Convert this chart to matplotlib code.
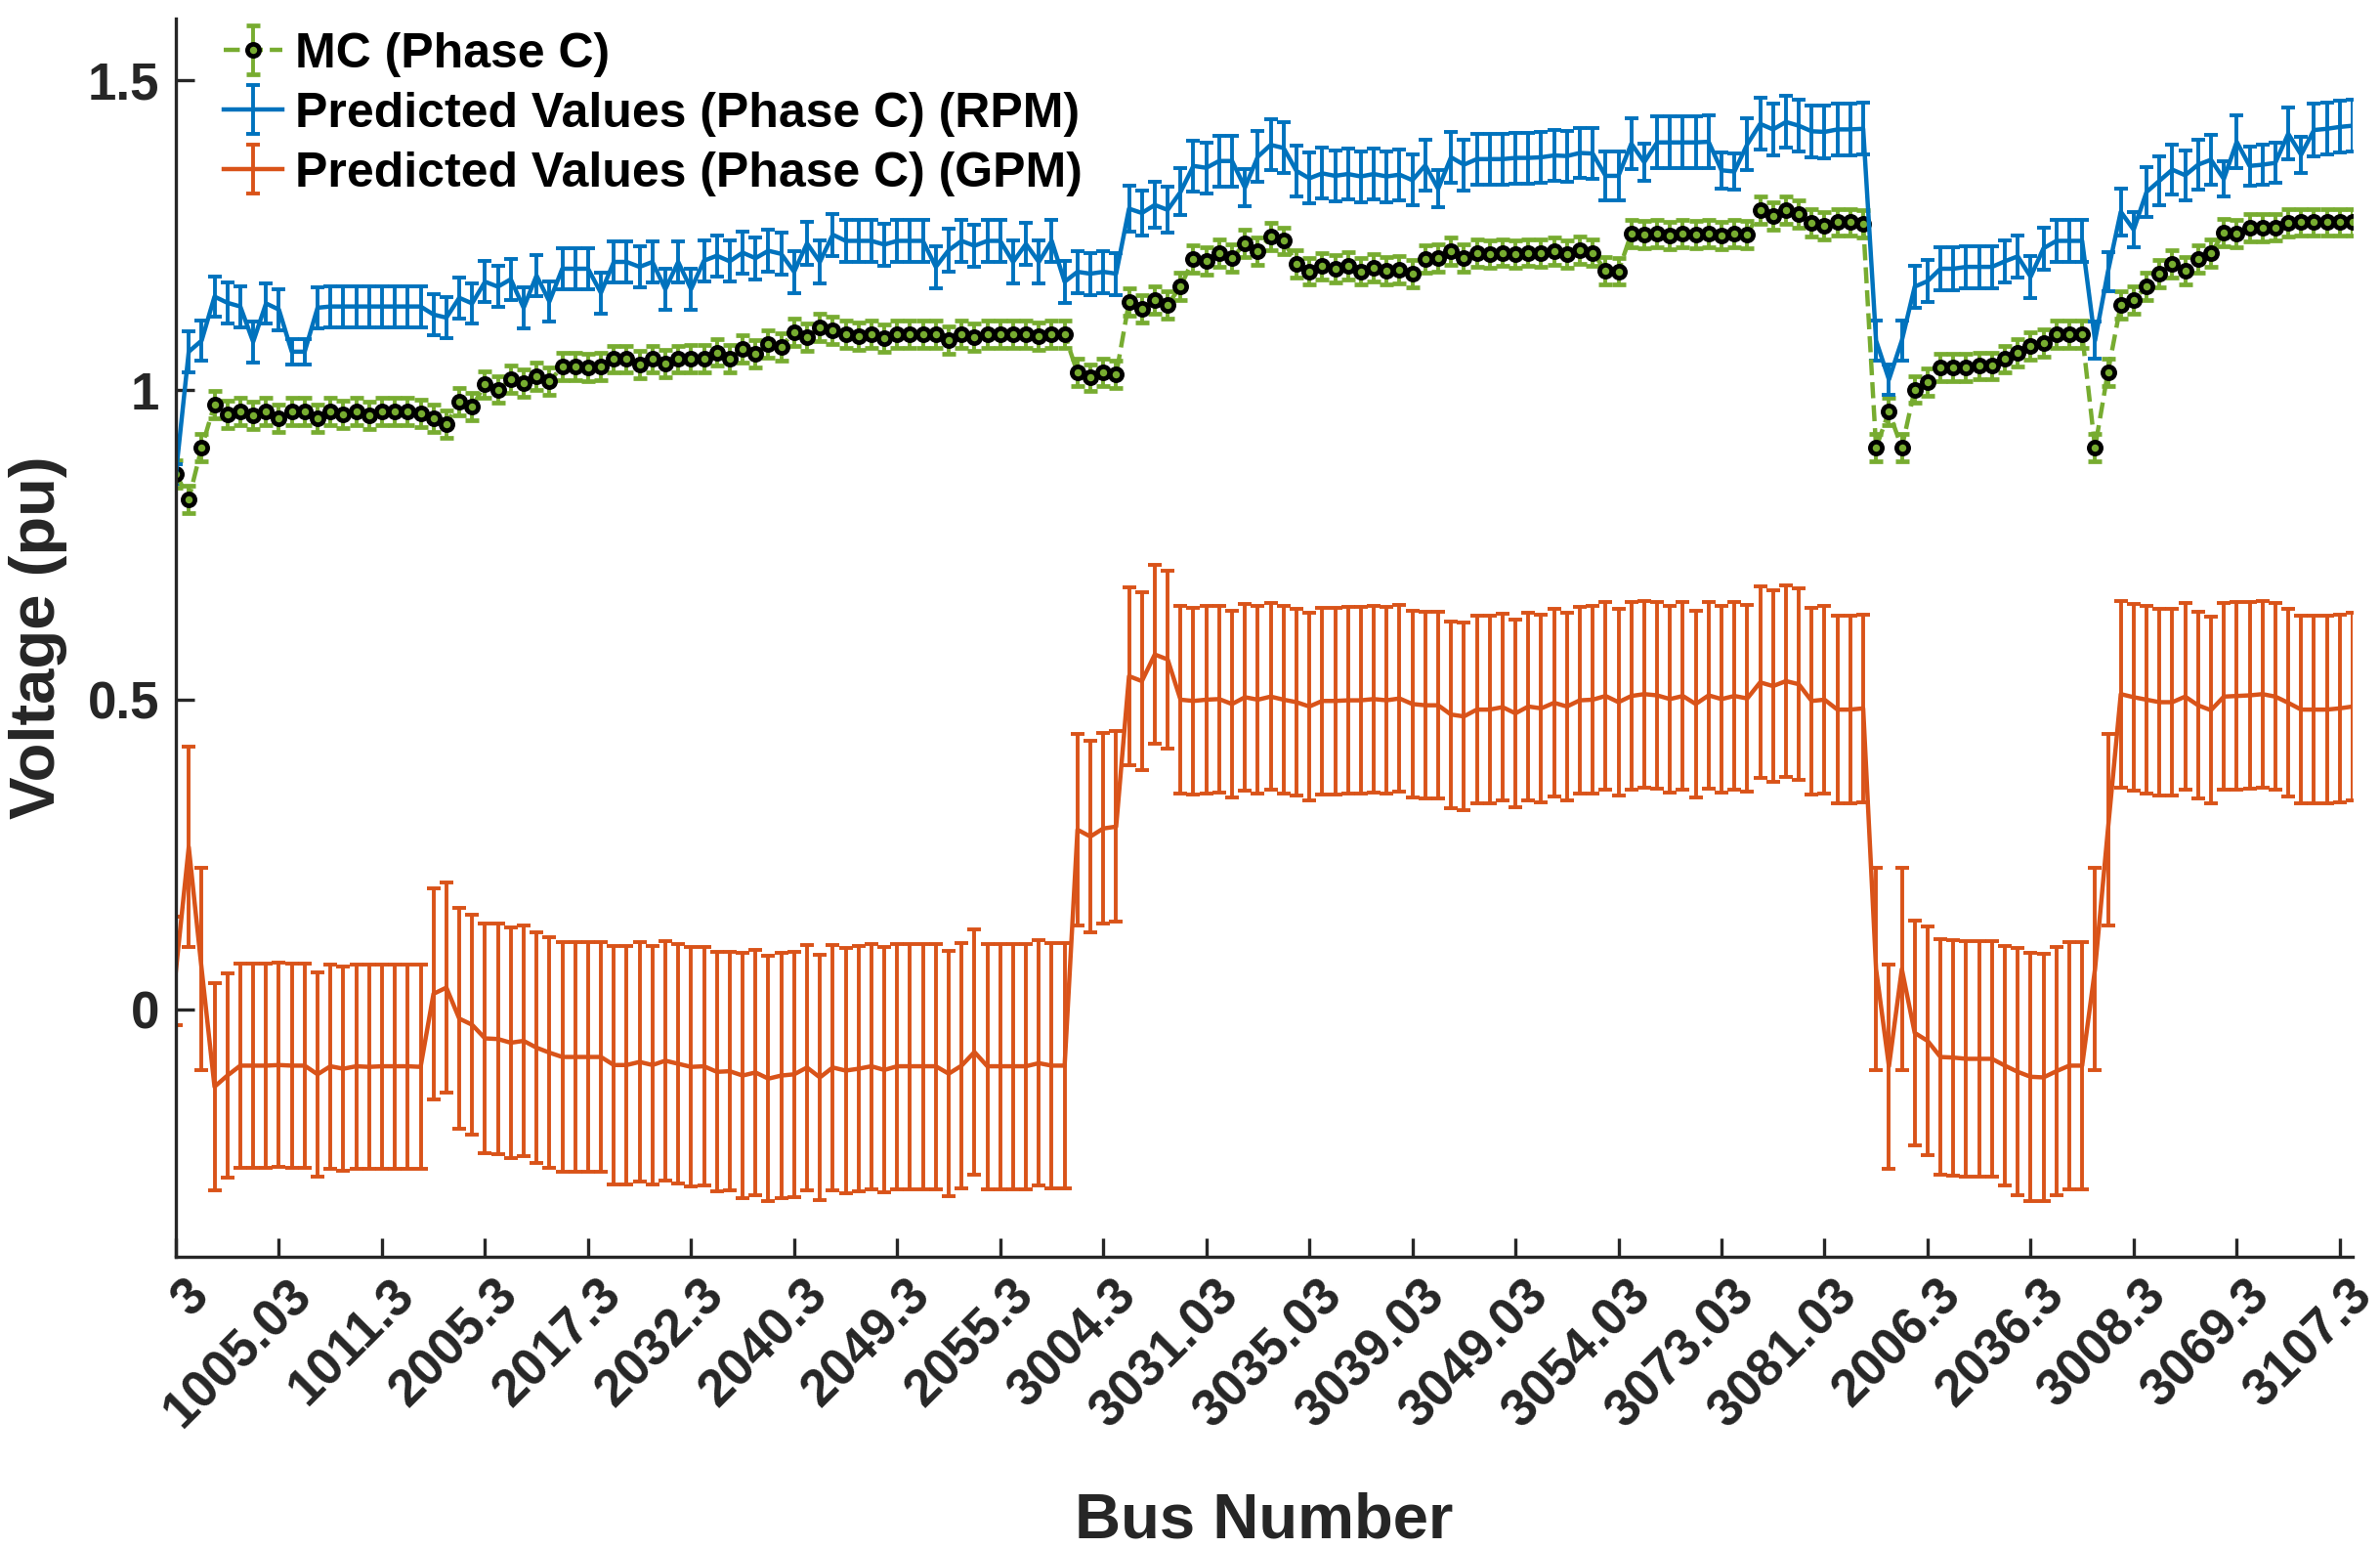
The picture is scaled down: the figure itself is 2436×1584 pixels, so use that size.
import numpy as np
import matplotlib.pyplot as plt
import matplotlib.transforms as mtransforms

plt.rcParams['font.family'] = ['Liberation Sans', 'DejaVu Sans']
plt.rcParams['font.weight'] = 'bold'

# === Data (170 buses, in plotting order) ===
mc_values = [
    0.865, 0.824, 0.907, 0.977, 0.961, 0.965, 0.959, 0.965, 0.955, 0.965,
    0.965, 0.954, 0.965, 0.961, 0.965, 0.959, 0.965, 0.965, 0.965, 0.963,
    0.955, 0.945, 0.982, 0.973, 1.009, 1.001, 1.017, 1.012, 1.023, 1.014,
    1.038, 1.038, 1.037, 1.038, 1.050, 1.050, 1.041, 1.050, 1.043, 1.050,
    1.051, 1.051, 1.061, 1.051, 1.066, 1.059, 1.074, 1.070, 1.094, 1.086,
    1.101, 1.096, 1.090, 1.087, 1.090, 1.084, 1.090, 1.090, 1.090, 1.090,
    1.081, 1.090, 1.086, 1.090, 1.090, 1.090, 1.090, 1.087, 1.090, 1.090,
    1.028, 1.020, 1.029, 1.025, 1.142, 1.131, 1.146, 1.138, 1.167, 1.212,
    1.208, 1.221, 1.213, 1.237, 1.225, 1.248, 1.241, 1.204, 1.192, 1.200,
    1.196, 1.201, 1.192, 1.197, 1.193, 1.195, 1.188, 1.212, 1.213, 1.225,
    1.214, 1.221, 1.220, 1.222, 1.220, 1.222, 1.221, 1.224, 1.220, 1.226,
    1.222, 1.193, 1.192, 1.253, 1.251, 1.253, 1.249, 1.253, 1.251, 1.253,
    1.249, 1.253, 1.251, 1.290, 1.281, 1.291, 1.284, 1.270, 1.265, 1.271,
    1.271, 1.269, 0.907, 0.965, 0.907, 1.001, 1.013, 1.037, 1.037, 1.037,
    1.039, 1.039, 1.050, 1.060, 1.071, 1.076, 1.090, 1.090, 1.090, 0.907,
    1.029, 1.138, 1.146, 1.167, 1.188, 1.204, 1.193, 1.212, 1.221, 1.254,
    1.253, 1.262, 1.262, 1.263, 1.270, 1.271, 1.271, 1.271, 1.271, 1.271,
]
mc_err = 0.022

rpm_values = [
    0.865, 1.062, 1.080, 1.151, 1.141, 1.135, 1.078, 1.140, 1.130, 1.062,
    1.062, 1.133, 1.135, 1.135, 1.135, 1.135, 1.135, 1.135, 1.135, 1.135,
    1.122, 1.117, 1.149, 1.140, 1.175, 1.167, 1.179, 1.133, 1.185, 1.143,
    1.196, 1.196, 1.196, 1.157, 1.207, 1.207, 1.199, 1.207, 1.163, 1.207,
    1.163, 1.209, 1.217, 1.208, 1.222, 1.213, 1.225, 1.220, 1.191, 1.237,
    1.207, 1.251, 1.241, 1.241, 1.241, 1.235, 1.241, 1.241, 1.241, 1.199,
    1.226, 1.241, 1.233, 1.241, 1.241, 1.207, 1.236, 1.207, 1.241, 1.175,
    1.191, 1.188, 1.191, 1.188, 1.293, 1.286, 1.299, 1.291, 1.320, 1.362,
    1.359, 1.370, 1.370, 1.327, 1.377, 1.396, 1.391, 1.354, 1.342, 1.350,
    1.346, 1.349, 1.345, 1.349, 1.345, 1.348, 1.339, 1.363, 1.325, 1.376,
    1.364, 1.373, 1.373, 1.373, 1.375, 1.375, 1.376, 1.379, 1.378, 1.383,
    1.382, 1.346, 1.346, 1.398, 1.368, 1.400, 1.400, 1.400, 1.400, 1.401,
    1.355, 1.353, 1.397, 1.430, 1.421, 1.433, 1.427, 1.418, 1.417, 1.421,
    1.421, 1.422, 1.080, 1.017, 1.080, 1.167, 1.176, 1.196, 1.196, 1.199,
    1.199, 1.199, 1.208, 1.216, 1.183, 1.229, 1.241, 1.241, 1.241, 1.080,
    1.191, 1.288, 1.259, 1.320, 1.338, 1.356, 1.347, 1.364, 1.372, 1.341,
    1.401, 1.362, 1.364, 1.367, 1.414, 1.380, 1.420, 1.422, 1.425, 1.427,
]
rpm_err = [
    0.016, 0.033, 0.033, 0.033, 0.033, 0.033, 0.033, 0.033, 0.033, 0.020,
    0.020, 0.033, 0.033, 0.033, 0.033, 0.033, 0.033, 0.033, 0.033, 0.033,
    0.033, 0.033, 0.033, 0.033, 0.033, 0.033, 0.033, 0.033, 0.033, 0.033,
    0.033, 0.033, 0.033, 0.033, 0.033, 0.033, 0.033, 0.033, 0.033, 0.033,
    0.033, 0.033, 0.033, 0.033, 0.034, 0.034, 0.034, 0.034, 0.034, 0.034,
    0.034, 0.034, 0.034, 0.034, 0.034, 0.034, 0.034, 0.034, 0.034, 0.034,
    0.034, 0.034, 0.034, 0.034, 0.034, 0.034, 0.034, 0.034, 0.034, 0.034,
    0.034, 0.034, 0.034, 0.034, 0.037, 0.037, 0.037, 0.037, 0.038, 0.041,
    0.041, 0.041, 0.041, 0.030, 0.041, 0.041, 0.041, 0.041, 0.041, 0.041,
    0.041, 0.041, 0.041, 0.041, 0.041, 0.041, 0.041, 0.041, 0.030, 0.041,
    0.041, 0.041, 0.041, 0.041, 0.041, 0.041, 0.041, 0.041, 0.041, 0.041,
    0.041, 0.039, 0.039, 0.041, 0.030, 0.042, 0.042, 0.042, 0.042, 0.042,
    0.029, 0.029, 0.042, 0.042, 0.042, 0.042, 0.042, 0.042, 0.042, 0.042,
    0.042, 0.042, 0.033, 0.025, 0.033, 0.034, 0.034, 0.034, 0.034, 0.034,
    0.034, 0.034, 0.034, 0.034, 0.034, 0.034, 0.034, 0.034, 0.034, 0.030,
    0.032, 0.038, 0.028, 0.040, 0.040, 0.040, 0.040, 0.040, 0.040, 0.029,
    0.042, 0.032, 0.032, 0.032, 0.042, 0.029, 0.042, 0.042, 0.042, 0.042,
]

gpm_values = [
    0.062, 0.262, 0.065, -0.125, -0.107, -0.091, -0.091, -0.091, -0.090, -0.091,
    -0.091, -0.105, -0.092, -0.096, -0.092, -0.093, -0.092, -0.092, -0.092, -0.093,
    0.025, 0.035, -0.015, -0.025, -0.047, -0.048, -0.054, -0.051, -0.062, -0.070,
    -0.077, -0.077, -0.077, -0.077, -0.090, -0.090, -0.085, -0.090, -0.083, -0.088,
    -0.093, -0.092, -0.101, -0.100, -0.107, -0.102, -0.112, -0.107, -0.105, -0.094,
    -0.110, -0.094, -0.099, -0.096, -0.092, -0.098, -0.092, -0.092, -0.092, -0.092,
    -0.104, -0.091, -0.069, -0.092, -0.092, -0.092, -0.092, -0.087, -0.091, -0.091,
    0.290, 0.279, 0.292, 0.295, 0.538, 0.530, 0.573, 0.565, 0.500, 0.498,
    0.500, 0.501, 0.493, 0.504, 0.500, 0.505, 0.500, 0.496, 0.489, 0.498,
    0.498, 0.499, 0.499, 0.501, 0.499, 0.502, 0.493, 0.491, 0.491, 0.476,
    0.473, 0.484, 0.484, 0.488, 0.478, 0.489, 0.486, 0.495, 0.489, 0.499,
    0.500, 0.506, 0.496, 0.506, 0.509, 0.507, 0.501, 0.506, 0.493, 0.507,
    0.501, 0.506, 0.502, 0.528, 0.522, 0.530, 0.525, 0.498, 0.500, 0.484,
    0.484, 0.486, 0.065, -0.092, 0.065, -0.038, -0.051, -0.077, -0.078, -0.080,
    -0.080, -0.080, -0.091, -0.101, -0.109, -0.110, -0.100, -0.091, -0.091, 0.065,
    0.290, 0.509, 0.504, 0.500, 0.496, 0.496, 0.505, 0.491, 0.483, 0.505,
    0.506, 0.507, 0.509, 0.505, 0.495, 0.484, 0.484, 0.484, 0.486, 0.489,
]
gpm_err = [
    0.087, 0.162, 0.163, 0.167, 0.165, 0.165, 0.165, 0.165, 0.165, 0.165,
    0.165, 0.165, 0.165, 0.165, 0.165, 0.165, 0.165, 0.165, 0.165, 0.165,
    0.170, 0.170, 0.178, 0.178, 0.186, 0.186, 0.186, 0.186, 0.186, 0.186,
    0.186, 0.186, 0.186, 0.186, 0.193, 0.193, 0.193, 0.193, 0.193, 0.193,
    0.193, 0.193, 0.193, 0.193, 0.198, 0.198, 0.198, 0.198, 0.198, 0.198,
    0.198, 0.198, 0.198, 0.198, 0.198, 0.198, 0.198, 0.198, 0.198, 0.198,
    0.198, 0.198, 0.198, 0.198, 0.198, 0.198, 0.198, 0.198, 0.198, 0.198,
    0.154, 0.154, 0.154, 0.154, 0.144, 0.144, 0.144, 0.144, 0.151, 0.151,
    0.151, 0.151, 0.151, 0.151, 0.151, 0.151, 0.151, 0.151, 0.151, 0.151,
    0.151, 0.151, 0.151, 0.151, 0.151, 0.151, 0.151, 0.151, 0.151, 0.151,
    0.151, 0.151, 0.151, 0.151, 0.151, 0.151, 0.151, 0.151, 0.151, 0.151,
    0.151, 0.151, 0.151, 0.151, 0.151, 0.151, 0.151, 0.151, 0.151, 0.151,
    0.151, 0.151, 0.151, 0.155, 0.155, 0.155, 0.155, 0.151, 0.151, 0.151,
    0.151, 0.151, 0.163, 0.165, 0.163, 0.181, 0.185, 0.190, 0.190, 0.190,
    0.190, 0.190, 0.193, 0.200, 0.200, 0.200, 0.200, 0.200, 0.200, 0.163,
    0.154, 0.151, 0.151, 0.151, 0.151, 0.151, 0.151, 0.151, 0.151, 0.151,
    0.151, 0.151, 0.151, 0.151, 0.151, 0.151, 0.151, 0.151, 0.151, 0.151,
]

bus_labels = ['3', '1005.03', '1011.3', '2005.3', '2017.3', '2032.3', '2040.3',
              '2049.3', '2055.3', '3004.3', '3031.03', '3035.03', '3039.03',
              '3049.03', '3054.03', '3073.03', '3081.03', '2006.3', '2036.3',
              '3008.3', '3069.3', '3107.3']
label_step = 8  # a bus label every 8th bus

x = np.arange(1, len(mc_values) + 1)

green = '#77AC30'
blue = '#0072BD'
orange = '#D95319'
axis_col = '#262626'

# === Figure ===
fig = plt.figure(figsize=(12.18, 7.92), dpi=200)
ax = fig.add_axes([0.0739, 0.188, 0.9146, 0.800])

ax.errorbar(x, mc_values, yerr=mc_err, color=green, ls='--', lw=1.6,
            marker='o', ms=4.4, mfc=green, mec='k', mew=1.7,
            elinewidth=1.4, capsize=2.4, capthick=1.4,
            label='MC (Phase C)')
ax.errorbar(x, rpm_values, yerr=rpm_err, color=blue, lw=1.6,
            elinewidth=1.4, capsize=2.4, capthick=1.4,
            label='Predicted Values (Phase C) (RPM)')
ax.errorbar(x, gpm_values, yerr=gpm_err, color=orange, lw=1.6,
            elinewidth=1.4, capsize=2.4, capthick=1.4,
            label='Predicted Values (Phase C) (GPM)')

# === Axes styling (MATLAB-like) ===
ax.set_xlim(1, len(mc_values))
ax.set_ylim(-0.4, 1.6)
ax.set_yticks([0, 0.5, 1, 1.5])
ax.set_yticklabels(['0', '0.5', '1', '1.5'])
ax.set_xticks(x[::label_step])
ax.set_xticklabels(bus_labels, rotation=45, ha='right', va='top',
                   rotation_mode='anchor')

for side in ['top', 'right']:
    ax.spines[side].set_visible(False)
for side in ['left', 'bottom']:
    ax.spines[side].set_color(axis_col)
    ax.spines[side].set_linewidth(1.2)

ax.tick_params(direction='in', length=7, width=1.2, colors=axis_col,
               labelsize=19)
ax.tick_params(axis='y', pad=6)
ax.tick_params(axis='x', pad=5)

# shift rotated labels slightly to the right, like MATLAB does
offset = mtransforms.ScaledTranslation(3 / 72, 0, fig.dpi_scale_trans)
for lbl in ax.get_xticklabels():
    lbl.set_transform(lbl.get_transform() + offset)
    lbl.set_fontweight('bold')
for lbl in ax.get_yticklabels():
    lbl.set_fontweight('bold')

ax.set_xlabel('Bus Number', fontsize=23.5, fontweight='bold', color=axis_col)
ax.set_ylabel('Voltage (pu)', fontsize=23.5, fontweight='bold', color=axis_col)
ax.xaxis.set_label_coords(0.5, -0.19)
ax.yaxis.set_label_coords(-0.050, 0.5)

leg = ax.legend(loc='upper left', bbox_to_anchor=(0.022, 0.989), frameon=False,
                fontsize=18, handlelength=1.2, handletextpad=0.25,
                labelspacing=0.3, borderpad=0, borderaxespad=0)
for t in leg.get_texts():
    t.set_fontweight('bold')

fig.savefig('out.png', dpi=200)
